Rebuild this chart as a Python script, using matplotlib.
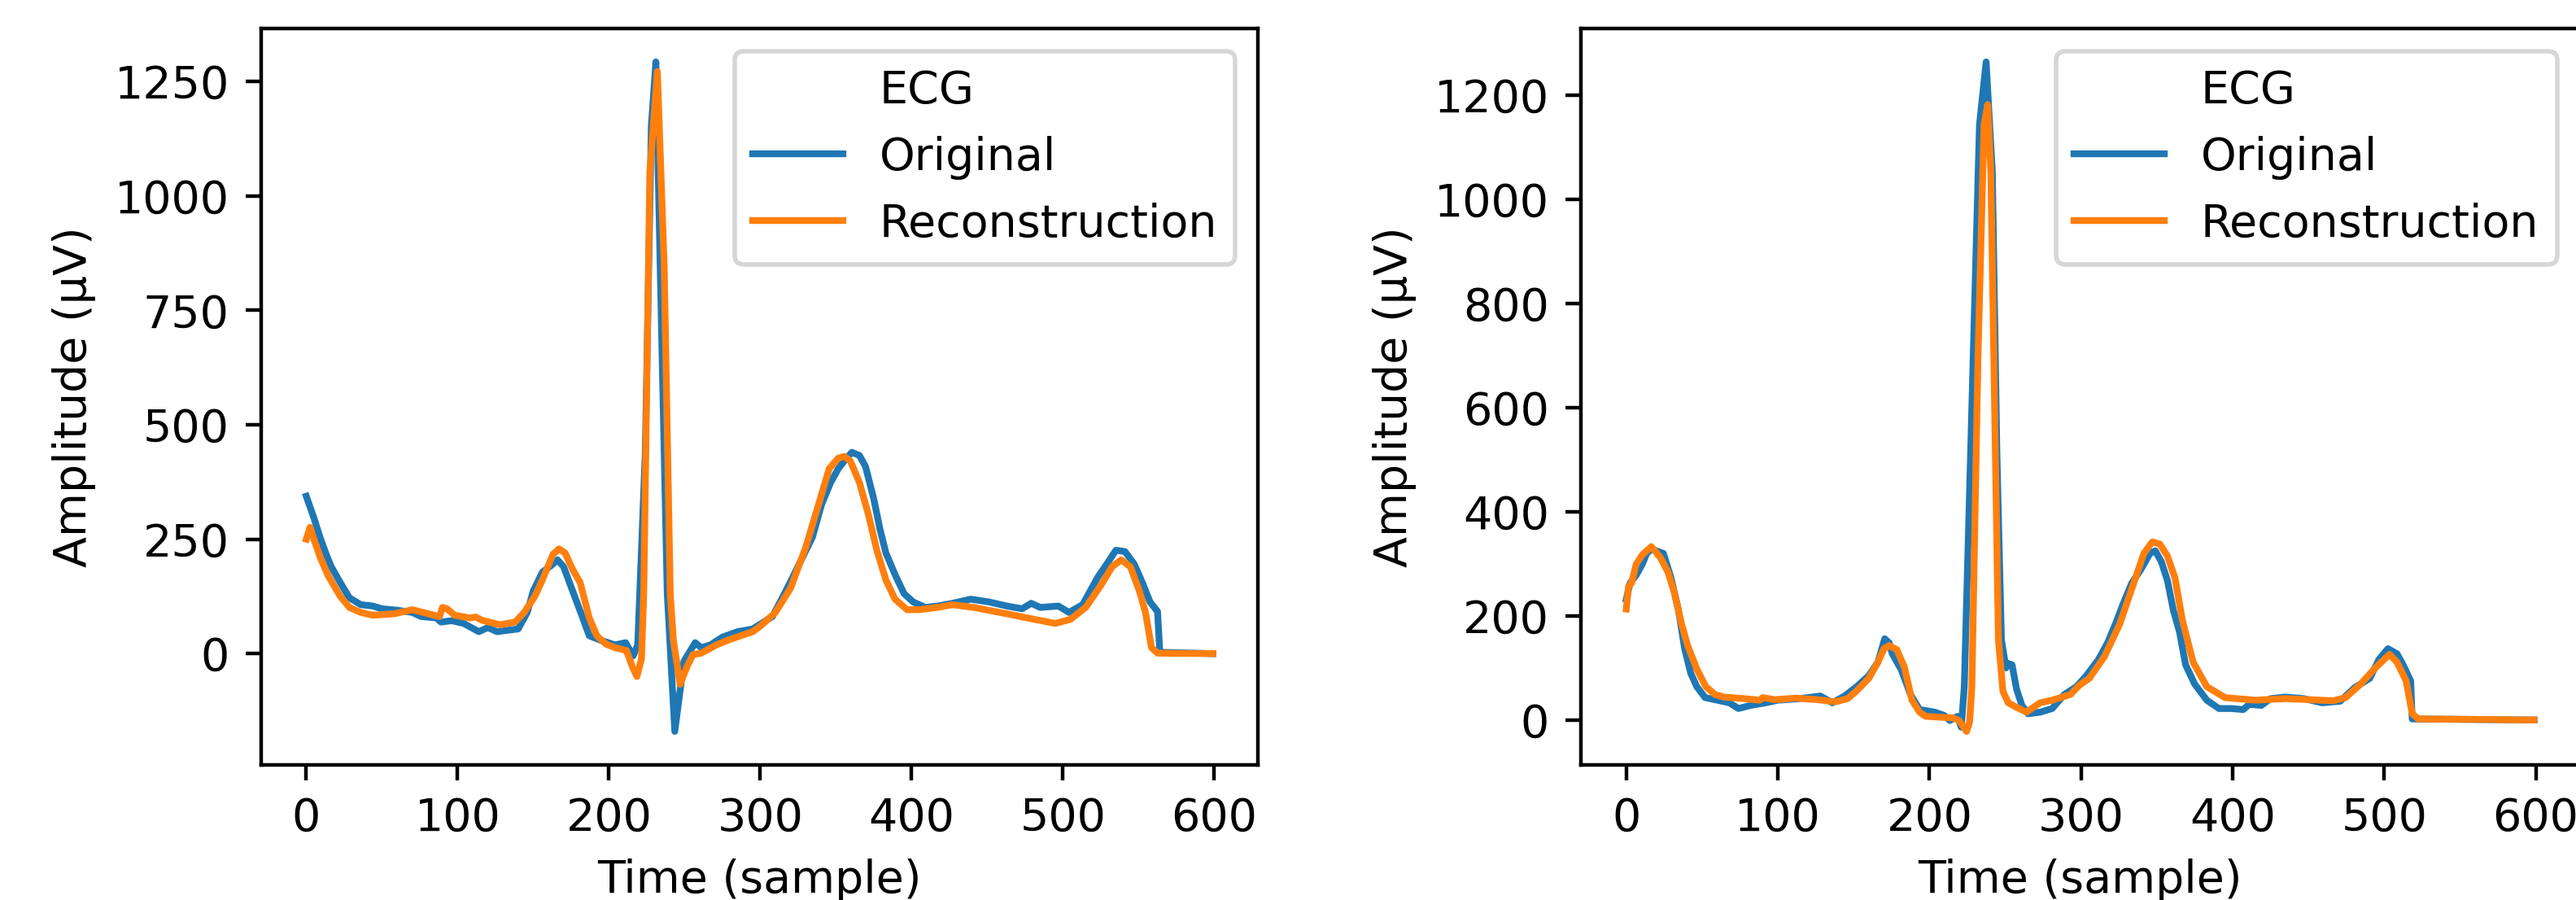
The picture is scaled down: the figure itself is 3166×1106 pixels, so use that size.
import matplotlib
matplotlib.use("Agg")
import matplotlib.pyplot as plt

# ECG segment 1 (left panel) - original and reconstruction, sample index / amplitude (uV)
ecg1_orig_t = [0, 5, 9, 13.5, 16.5, 22.5, 28.5, 36, 44, 50, 60, 70, 76, 86, 89, 96, 104, 114, 120, 126,
               140, 146, 150, 156, 162, 166, 170, 176, 182, 187, 194, 204, 211, 216, 219, 224, 228, 231,
               234.5, 238.5, 243.5, 249.5, 257, 261, 267, 275, 285, 295, 308, 316, 324, 334.5, 340.5,
               346.5, 351.5, 355.5, 360.5, 365.5, 369.5, 375, 379, 383, 389, 395, 401, 409, 417, 427,
               439, 451, 463, 473, 479, 485, 497, 504, 513, 523, 529, 535, 541, 547, 552.5, 557.5,
               562.5, 564, 599]
ecg1_orig_v = [344, 297, 255, 214, 190, 155, 122, 107, 104, 98, 95, 90, 81, 78, 69, 72, 66, 48, 57, 48,
               54, 90, 137, 178, 193, 205, 190, 137, 84, 39, 30, 19, 24, -5, 19, 439, 1153, 1293,
               745, 133, -170, -17, 24, 13, 19, 36, 48, 54, 81, 131, 184, 255, 326,
               374, 404, 421, 440, 433, 409, 338, 273, 220, 173, 131, 113, 101, 104, 110,
               119, 113, 104, 98, 110, 101, 104, 90, 107, 167, 196, 226, 223, 196, 155, 113,
               92, 3, 0]

ecg1_rec_t = [0, 2.5, 4.5, 9.5, 14.5, 22.5, 28.5, 36, 44, 58, 70, 88, 90, 93, 98, 108, 112, 116, 128,
              138, 144, 151, 156, 163, 167, 171, 176, 181, 187, 192, 198, 204, 211.5, 215.5, 218.5,
              221.5, 223, 227, 232, 236.5, 240.5, 242.5, 247, 251.5, 255.5, 261, 271, 279, 295, 300,
              310, 320, 330, 337.5, 345.5, 351.5, 355.5, 359.5, 365.5, 371.5, 377, 383, 389, 397, 405,
              417, 427, 441, 463, 481, 495, 505, 515, 525, 532.5, 538.5, 544.5, 550.5, 554.5, 558.5,
              562.5, 599]
ecg1_rec_v = [250, 276, 255, 208, 170, 125, 101, 90, 84, 87, 96, 81, 101, 98, 84, 78, 80, 73, 63,
              69, 90, 125, 161, 217, 229, 220, 184, 155, 78, 39, 21, 13, 7, -29, -50,
              -11, 133, 1051, 1272, 847, 133, 31, -67, -29, -2, 1, 19, 30, 48, 60,
              90, 143, 232, 315, 404, 427, 431, 421, 374, 303, 226, 161, 119, 96, 96,
              101, 107, 101, 87, 75, 66, 75, 101, 149, 190, 205, 190, 137, 90, 13,
              1, 0]

# ECG segment 2 (right panel)
ecg2_orig_t = [0, 2.5, 6.5, 10.5, 13.5, 16.5, 24.5, 29.5, 34.5, 38.5, 42.5, 46.5, 52, 60, 68, 74, 82,
               92, 100, 114, 128, 136, 144, 152, 160, 166, 170.5, 173.5, 175.5, 181.5, 187.5, 193.5,
               203.5, 209.5, 213.5, 218.5, 221, 223, 228, 233, 237.4, 241.5, 244.5, 247.5, 250.5,
               251.5, 254.5, 257.5, 261, 265, 273, 281, 289, 297, 303.5, 311.5, 317.5, 323.5, 327.5,
               333.5, 339.5, 345.5, 349, 353, 357, 361, 365, 369, 375, 383, 391, 399, 407, 411, 419,
               425, 435, 447, 459, 471, 480.5, 490.5, 496.5, 502.5, 508.5, 512.5, 517.5, 518.5, 599]
ecg2_orig_v = [232, 263, 278, 299, 320, 328, 320, 273, 210, 137, 90, 64, 43, 38, 33, 22, 28,
               33, 38, 41, 46, 33, 46, 64, 85, 111, 156, 148, 127, 96, 49, 20,
               15, 9, -1, 7, -14, 64, 603, 1143, 1264, 1053, 513, 154, 100,
               109, 106, 59, 28, 12, 15, 22, 49, 64, 85, 116, 148, 190, 221,
               263, 289, 320, 325, 304, 268, 210, 169, 106, 69, 38, 22, 22, 20, 30, 28,
               41, 44, 41, 33, 36, 62, 80, 116, 137, 127, 106, 75, 2, 0]

ecg2_rec_t = [0, 1.5, 3.5, 6.5, 10.5, 16.5, 22.5, 27.5, 31.5, 36.5, 40.5, 46.5, 52.5, 58.5, 64.5, 78,
              88, 90, 98, 112, 126, 138, 146, 152, 160, 166, 170, 173.5, 178.5, 183.5, 188.5, 193.5,
              197.5, 215.5, 219.5, 224.5, 226.5, 228, 232, 236, 238.4, 240.5, 243.5, 245.5, 248.5,
              252, 257, 264, 273, 281, 293, 299, 305.5, 315.5, 325.5, 333.5, 341.5, 347, 352, 357,
              362, 367, 374, 383, 395, 415, 435, 466.5, 474.5, 484.5, 494.5, 503.5, 508.5, 514.5,
              518.5, 522.5, 599]
ecg2_rec_v = [213, 257, 263, 299, 317, 333, 312, 284, 247, 184, 143, 98, 64, 49, 44, 41,
              38, 43, 39, 42, 39, 35, 41, 56, 80, 111, 137, 143, 135, 101, 38, 15,
              7, 4, -1, -22, -4, 64, 693, 1143, 1182, 1053, 513, 154, 55,
              33, 25, 15, 33, 38, 49, 67, 80, 122, 184, 252, 320, 342, 338, 315,
              273, 190, 111, 64, 43, 38, 41, 37, 43, 69, 101, 126, 111, 75,
              12, 2, 0]

panels = [
    (ecg1_orig_t, ecg1_orig_v, ecg1_rec_t, ecg1_rec_v),
    (ecg2_orig_t, ecg2_orig_v, ecg2_rec_t, ecg2_rec_v),
]

fig = plt.figure(figsize=(3166 / 400, 1106 / 400), dpi=400)
ax1 = fig.add_axes([0.1013, 0.1501, 0.3871, 0.8183])
ax2 = fig.add_axes([0.6137, 0.1501, 0.3877, 0.8183])

for ax, (t_o, v_o, t_r, v_r) in zip([ax1, ax2], panels):
    ax.plot([], [], ' ', label='ECG')
    ax.plot(t_o, v_o, color='#1f77b4', label='Original')
    ax.plot(t_r, v_r, color='#ff7f0e', label='Reconstruction')
    ax.set_xlabel('Time (sample)')
    ax.set_ylabel('Amplitude (µV)')
    ax.set_xticks([0, 100, 200, 300, 400, 500, 600])
    ax.legend(loc='upper right')

ax1.set_yticks([0, 250, 500, 750, 1000, 1250])
ax2.set_yticks([0, 200, 400, 600, 800, 1000, 1200])

fig.savefig('out.png', dpi=400)
